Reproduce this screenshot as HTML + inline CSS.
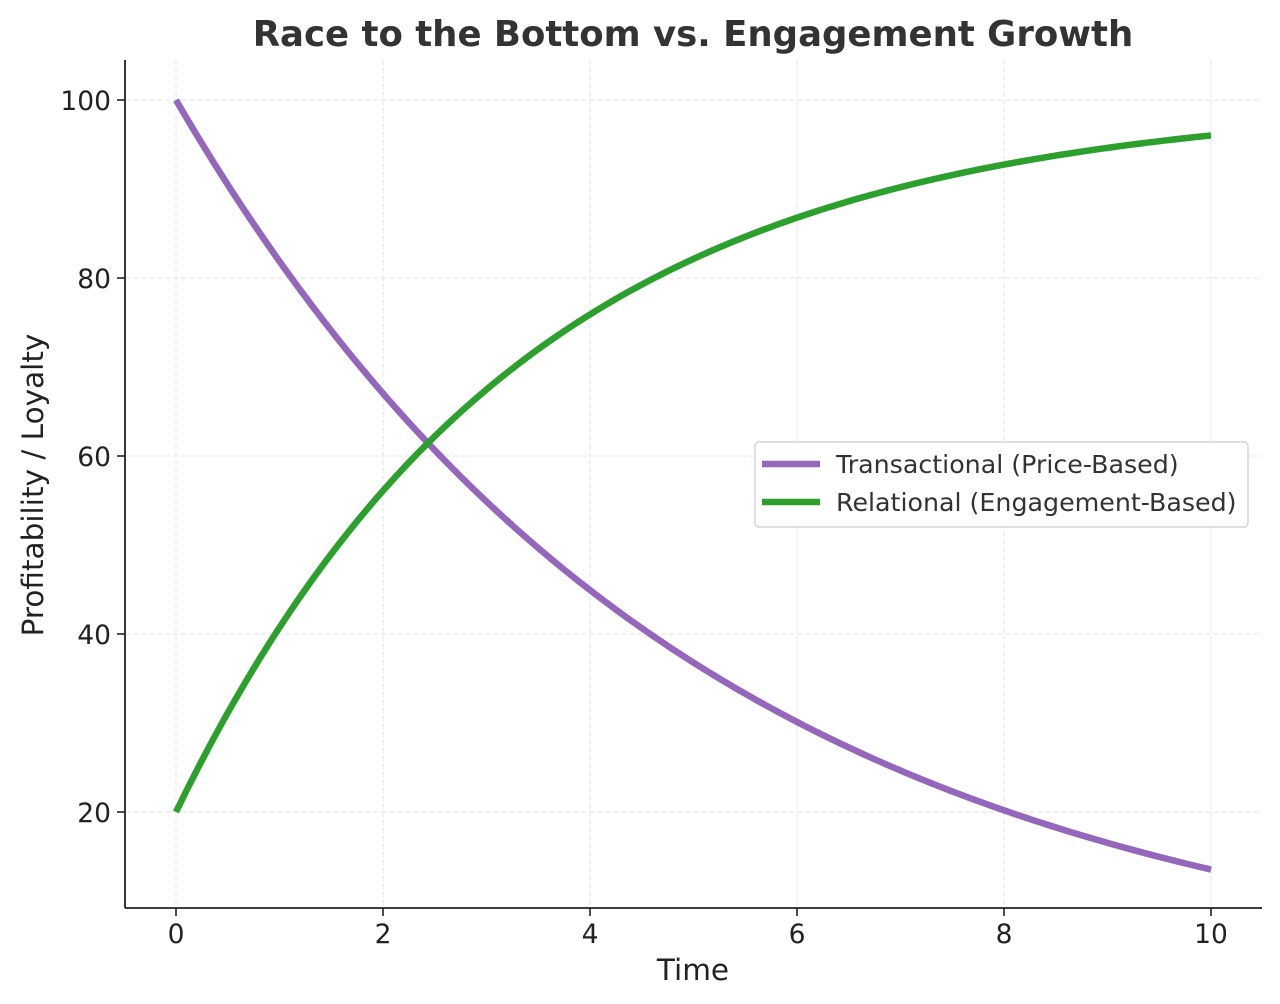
<!DOCTYPE html>
<html><head><meta charset="utf-8"><style>
html,body{margin:0;padding:0;background:#fff;}
svg{display:block;font-family:"DejaVu Sans","Liberation Sans",sans-serif;}
</style></head><body>
<svg id="s" width="1280" height="1004" viewBox="0 0 1280 1004" xmlns="http://www.w3.org/2000/svg">
<g id="grid" stroke="#e3e3e3" stroke-width="1" stroke-dasharray="5,3"></g>
<path id="p1" fill="none" stroke="#9467bd" stroke-width="6.5" stroke-linecap="butt"/>
<path id="p2" fill="none" stroke="#2ca02c" stroke-width="6.5" stroke-linecap="butt"/>
<line x1="125" y1="60" x2="125" y2="908" stroke="#222" stroke-width="1.8"/>
<line x1="125" y1="908" x2="1262" y2="908" stroke="#222" stroke-width="1.8"/>
<g id="ticks" font-size="26.5" fill="#222"></g>
<text x="693" y="46" text-anchor="middle" font-size="35.5" font-weight="bold" fill="#333">Race to the Bottom vs. Engagement Growth</text>
<text x="693" y="980" text-anchor="middle" font-size="29.5" fill="#222">Time</text>
<text transform="translate(43,485) rotate(-90)" text-anchor="middle" font-size="29.5" fill="#222">Profitability / Loyalty</text>
<rect x="755" y="442" width="493" height="85" rx="4" fill="#fff" stroke="#ccc" stroke-width="1.2"/>
<line x1="762" y1="464" x2="820" y2="464" stroke="#9467bd" stroke-width="6.5"/>
<line x1="762" y1="502" x2="820" y2="502" stroke="#2ca02c" stroke-width="6.5"/>
<text x="836" y="473" font-size="25.3" fill="#333">Transactional (Price-Based)</text>
<text x="836" y="511" font-size="25.3" fill="#333">Relational (Engagement-Based)</text>
</svg>
<script>
var X=function(t){return 176+t*103.5},Y=function(v){return 100+(100-v)*8.9};
var a="",b="";
for(var i=0;i<=200;i++){var t=i/20;a+=(i?"L":"M")+X(t).toFixed(2)+","+Y(100*Math.exp(-0.2*t)).toFixed(2);
b+=(i?"L":"M")+X(t).toFixed(2)+","+Y(100-80*Math.exp(-0.3*t)).toFixed(2);}
document.getElementById("p1").setAttribute("d",a);
document.getElementById("p2").setAttribute("d",b);
var g=document.getElementById("grid"),tk=document.getElementById("ticks"),h="",gh="";
for(var t=0;t<=10;t+=2){var x=X(t);gh+='<line x1="'+x+'" y1="60" x2="'+x+'" y2="908"/>';
h+='<line x1="'+x+'" y1="908" x2="'+x+'" y2="916" stroke="#222" stroke-width="1.6"/><text x="'+x+'" y="943" text-anchor="middle">'+t+'</text>';}
for(var v=20;v<=100;v+=20){var y=Y(v);gh+='<line x1="125" y1="'+y+'" x2="1262" y2="'+y+'"/>';
h+='<line x1="117" y1="'+y+'" x2="125" y2="'+y+'" stroke="#222" stroke-width="1.6"/><text x="111" y="'+(y+10)+'" text-anchor="end">'+v+'</text>';}
g.innerHTML=gh;tk.innerHTML=h;
</script>
</body></html>
